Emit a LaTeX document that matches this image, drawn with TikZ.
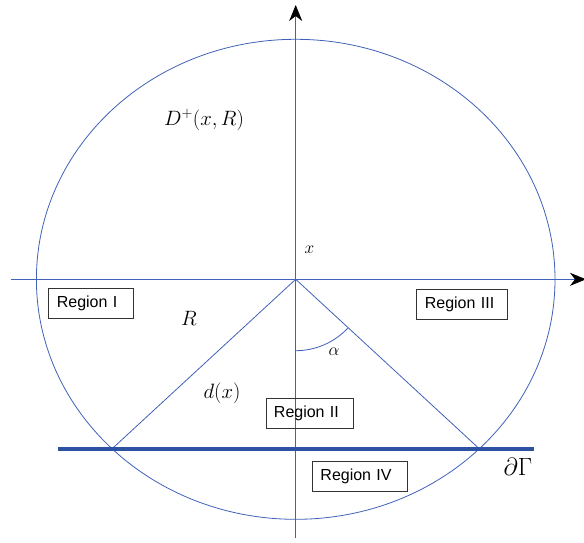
\documentclass[tikz,border=0pt]{standalone}
\usepackage{fontspec}
\newfontfamily\regionfont{Liberation Sans}
\usetikzlibrary{arrows.meta}
\definecolor{diskBlue}{rgb}{0.25,0.38,0.72}
\definecolor{edgeBlue}{rgb}{0.18,0.32,0.64}
\begin{document}
\begin{tikzpicture}[x=1pt, y=-1pt,
  regionbox/.style={draw=black!80, line width=0.9pt, minimum height=30pt, anchor=west,
    align=left, inner xsep=8pt, inner ysep=0pt,
    font=\regionfont\fontsize{16}{19}\selectfont},
  mathlabel/.style={font=\fontsize{21}{24}\selectfont, inner sep=0pt},
  axisarrow/.style={-{Stealth[length=16pt,width=13pt,inset=5pt,color=black]}}]
% Disc drawn in pixel units of the exported figure
\def\cx{295.7}
\def\cy{279.3}
\providecommand{\diskLineWidth}{0.8pt}
\useasboundingbox (0,0) rectangle (584,542);
\begin{scope}[draw=diskBlue, line width=\diskLineWidth]
  % Named points
  \coordinate (O) at (\cx,\cy);
  \coordinate (xl) at (11,\cy);
  \coordinate (xr) at (586,\cy);
  \coordinate (yb) at (\cx,538);
  \coordinate (yt) at (\cx,5);
  \coordinate (P) at (111.5,449.3);
  \coordinate (Q) at (479.9,449.3);
  \coordinate (gl) at (57.7,449.3);
  \coordinate (gr) at (533.7,449.3);
  % Disc D^+(x,R)
  \draw (O) ellipse [x radius=259.3, y radius=240];
  % Axes
  \draw[axisarrow] (xl) -- (xr);
  \draw[axisarrow] (yb) -- (yt);
  % Radii to the boundary
  \draw (O) -- (P);
  \draw (O) -- (Q);
  % Angle alpha
  \draw (\cx,\cy+71.4) arc [start angle=-90, end angle=-43.1, x radius=71.4, y radius=-71.4];
\end{scope}
% Boundary partial Gamma
\draw[edgeBlue, line width=4pt] (gl) -- (gr);
% Region labels (left edge, centre height)
\node[regionbox, text width=69pt] (reg1) at (48.4,303.3) {Region I};
\node[regionbox, text width=74.6pt] (reg3) at (416.4,304.2) {Region III};
\node[regionbox, text width=71.2pt] (reg2) at (265.5,413.3) {Region II};
\node[regionbox, text width=79.4pt] (reg4) at (312,476.3) {Region IV};
% Math labels
\node[mathlabel] (dlab) at (204,120) {$D^+(x,R)$};
\node[mathlabel, font=\fontsize{17}{20}\selectfont] (xlab) at (309.5,250) {$x$};
\node[mathlabel] (Rlab) at (189,318) {$R$};
\node[mathlabel] (dxlab) at (222,393) {$d(x)$};
\node[mathlabel, font=\fontsize{17}{20}\selectfont] (alab) at (334,352) {$\alpha$};
\node[mathlabel, font=\fontsize{26}{30}\selectfont] (glab) at (518,467) {$\partial\Gamma$};
\end{tikzpicture}
\end{document}
